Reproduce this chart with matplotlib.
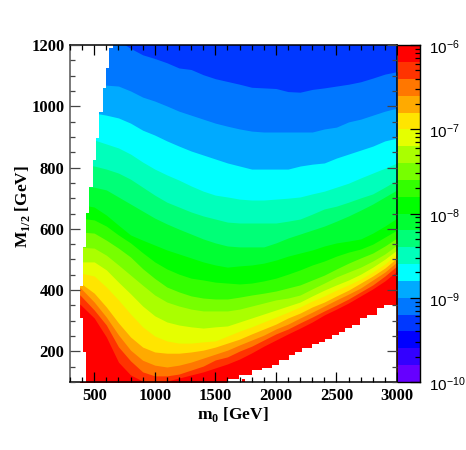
import numpy as np
import matplotlib
matplotlib.use("Agg")
import matplotlib.pyplot as plt
from matplotlib.ticker import FixedLocator, FixedFormatter, LogLocator, NullFormatter

plt.rcParams["mathtext.fontset"] = "custom"
plt.rcParams["mathtext.rm"] = "Liberation Sans"
plt.rcParams["mathtext.bf"] = "Liberation Serif:bold"

# m0 positions where the band edges were read
m0_knots = [380, 500, 600, 700, 800, 900, 1000, 1100, 1200, 1300, 1400, 1500, 1600,
            1700, 1800, 1900, 2000, 2100, 2200, 2300, 2400, 2500, 2600, 2700, 2800, 2900, 3000]

# M1/2 of the lower edge of each colour band, by palette index
edge_04 = [1215, 1215, 1215, 1215, 1189, 1168, 1156, 1142, 1125, 1120, 1103, 1090, 1081,
           1072, 1062, 1060, 1058, 1048, 1046, 1055, 1060, 1066, 1072, 1080, 1092, 1105, 1113]
edge_05 = [1075, 1072, 1069, 1066, 1050, 1030, 1017, 1001, 984, 971, 958, 945, 935,
           926, 919, 916, 916, 916, 916, 916, 926, 932, 949, 958, 971, 984, 994]
edge_06 = [985, 978, 971, 962, 945, 922, 906, 887, 870, 854, 841, 828, 815,
           805, 795, 795, 795, 795, 805, 811, 815, 831, 844, 857, 870, 887, 896]
edge_07 = [900, 890, 877, 864, 844, 818, 795, 776, 759, 740, 723, 710, 704,
           697, 694, 694, 697, 700, 704, 714, 723, 736, 749, 766, 782, 798, 815]
edge_08 = [810, 805, 795, 782, 762, 736, 710, 687, 671, 655, 642, 632, 622,
           619, 619, 619, 619, 625, 632, 648, 665, 674, 687, 701, 714, 736, 759]
edge_09 = [740, 736, 727, 704, 681, 658, 635, 616, 599, 583, 567, 554, 544,
           541, 541, 541, 554, 570, 583, 596, 609, 625, 642, 661, 681, 704, 727]
edge_10 = [680, 671, 645, 612, 580, 563, 547, 531, 518, 505, 492, 482, 475,
           479, 482, 488, 498, 511, 521, 531, 544, 554, 560, 567, 586, 609, 635]
edge_11 = [635, 629, 609, 580, 554, 522, 492, 469, 452, 439, 433, 426, 423,
           420, 423, 430, 439, 452, 466, 482, 495, 511, 524, 534, 550, 573, 596]
edge_12 = [590, 586, 563, 537, 508, 470, 438, 410, 394, 381, 374, 371, 371,
           377, 384, 390, 397, 407, 417, 433, 449, 469, 488, 505, 521, 544, 570]
edge_13 = [540, 537, 514, 482, 449, 416, 384, 361, 348, 338, 332, 332, 332,
           338, 348, 358, 368, 374, 384, 404, 423, 443, 459, 475, 495, 518, 547]
edge_14 = [492, 492, 466, 426, 388, 348, 316, 296, 286, 280, 276, 280, 283,
           296, 309, 322, 335, 348, 361, 381, 400, 417, 433, 452, 475, 501, 531]
edge_15 = [456, 446, 410, 368, 322, 280, 250, 234, 227, 227, 231, 234, 250,
           266, 280, 296, 312, 328, 345, 364, 381, 400, 417, 436, 459, 485, 518]
edge_16 = [425, 390, 345, 293, 247, 214, 198, 194, 194, 198, 204, 214, 227,
           240, 257, 273, 289, 309, 325, 345, 361, 381, 400, 423, 446, 472, 505]
edge_17 = [410, 361, 312, 254, 204, 171, 155, 149, 155, 165, 178, 191, 204,
           221, 237, 253, 273, 289, 309, 328, 348, 368, 387, 407, 433, 459, 492]
edge_18 = [385, 335, 286, 215, 169, 133, 120, 120, 126, 139, 152, 172, 182,
           201, 217, 237, 257, 273, 293, 312, 332, 351, 371, 394, 417, 446, 479]
edge_19 = [355, 309, 247, 165, 123, 103, 97, 103, 113, 123, 133, 146, 159,
           175, 195, 217, 237, 257, 276, 296, 319, 338, 358, 381, 404, 430, 462]

# empty region on the left, stairs
left_M12 = [100, 199, 308, 413, 542, 651, 737, 825, 897, 980, 1060, 1126, 1191, 1200]
left_m0 = [435, 408, 381, 407, 432, 459, 487, 515, 542, 570, 597, 625, 653, 678]

# empty region bottom right
right_m0 = [1596, 1696, 1803, 1886, 1968, 2026, 2108, 2158, 2216, 2298, 2356,
            2406, 2463, 2521, 2571, 2629, 2695, 2753, 2835, 2893, 3000]
right_M12 = [110, 123, 139, 146, 155, 172, 188, 198, 211, 224, 231,
             240, 253, 263, 276, 286, 309, 319, 342, 351, 364]

# ROOT rainbow palette, 20 contours
palette = ["#6600ff", "#3300ff", "#0000ff", "#0038ff", "#0077ff", "#00aaff", "#00ffff",
           "#00ffbb", "#00ff77", "#00ff33", "#00ff00", "#33ff00", "#77ff00", "#aaff00",
           "#e5ff00", "#ffe500", "#ffaa00", "#ff7700", "#ff3300", "#ff0000"]
cbar_edges = [1e-10, 1.58e-10, 2.51e-10, 3.98e-10, 6.31e-10, 1e-9, 1.58e-9, 2.51e-9, 3.98e-9, 6.31e-9,
              1e-8, 1.58e-8, 2.51e-8, 3.98e-8, 6.31e-8, 1e-7, 1.58e-7, 2.51e-7, 3.98e-7, 6.31e-7, 1e-6]
cbar_ticks = [1e-10, 1e-9, 1e-8, 1e-7, 1e-6]
cbar_labels = ["$\\mathrm{10^{-10}}$", "$\\mathrm{10^{-9}}$", "$\\mathrm{10^{-8}}$",
               "$\\mathrm{10^{-7}}$", "$\\mathrm{10^{-6}}$"]

fig = plt.figure(figsize=(4.66, 4.5), dpi=100)
W, H = 466, 450
ax = fig.add_axes([70 / W, (H - 382) / H, 327 / W, 337 / H])

# paint bands from the top down, each one covers everything below its edge
ax.fill_between(m0_knots, 100, 1220, color=palette[3], lw=0)
edges = [edge_04, edge_05, edge_06, edge_07, edge_08, edge_09, edge_10, edge_11,
         edge_12, edge_13, edge_14, edge_15, edge_16, edge_17, edge_18, edge_19]
for i, e in enumerate(edges):
    ax.fill_between(m0_knots, 90, e, color=palette[i + 4], lw=0)

ax.fill_betweenx(left_M12, 300, left_m0, step="post", color="white", lw=0)
ax.fill_between(right_m0, 90, right_M12, step="post", color="white", lw=0)
ax.bar([1730], [11], width=27, bottom=[100], color=palette[19], lw=0)

ax.set_xlim(300, 3000)
ax.set_ylim(100, 1200)
ax.set_xticks([500, 1000, 1500, 2000, 2500, 3000])
ax.set_xticks(np.arange(300, 3001, 100), minor=True)
ax.set_yticks([200, 400, 600, 800, 1000, 1200])
ax.set_yticks(np.arange(100, 1201, 50), minor=True)
ax.tick_params(which="major", direction="in", top=True, right=True, length=7.2, width=0.9,
               labelsize=12, pad=4)
ax.tick_params(which="minor", direction="in", top=True, right=True, length=3.6, width=0.9)
ax.tick_params(axis="y", which="both", left=True, color="#444444")
for lab in ax.get_xticklabels() + ax.get_yticklabels():
    lab.set_family("Liberation Serif")
    lab.set_weight("bold")
for s in ax.spines.values():
    s.set_linewidth(1.1)
ax.spines["left"].set_color("#555555")
ax.set_axisbelow(False)

fig.text(233 / W, 1 - 414 / H, "m$_{\\mathbf{0}}$ [GeV]", family="Liberation Serif", weight="bold",
         fontsize=12.5, ha="center", va="center")
fig.text(23 / W, 1 - 206 / H, "M$_{\\mathbf{1/2}}$ [GeV]", family="Liberation Serif", weight="bold",
         fontsize=12.5, rotation=90, ha="center", va="center")

# colour scale
cax = fig.add_axes([398 / W, (H - 382) / H, 21.5 / W, 337 / H])
cax.pcolormesh([0, 1], cbar_edges, np.arange(20).reshape(20, 1),
               cmap=matplotlib.colors.ListedColormap(palette), vmin=-0.5, vmax=19.5)
cax.set_yscale("log")
cax.set_ylim(1e-10, 1e-6)
cax.set_xticks([])
cax.yaxis.tick_right()
cax.yaxis.set_major_locator(FixedLocator(cbar_ticks))
cax.yaxis.set_major_formatter(FixedFormatter(cbar_labels))
cax.yaxis.set_minor_locator(LogLocator(base=10, subs=range(2, 10), numticks=12))
cax.yaxis.set_minor_formatter(NullFormatter())
cax.tick_params(which="major", direction="in", length=7.2, width=0.9, labelsize=11, pad=7)
cax.tick_params(which="minor", direction="in", length=3.6, width=0.9)
for lab in cax.get_yticklabels():
    lab.set_verticalalignment("center")
    lab.set_transform(lab.get_transform() + matplotlib.transforms.ScaledTranslation(0, -2 / 72, fig.dpi_scale_trans))
cax.spines["left"].set_visible(False)
for s in ["right", "top", "bottom"]:
    cax.spines[s].set_linewidth(1.0)

fig.savefig("out.png", dpi=100)
